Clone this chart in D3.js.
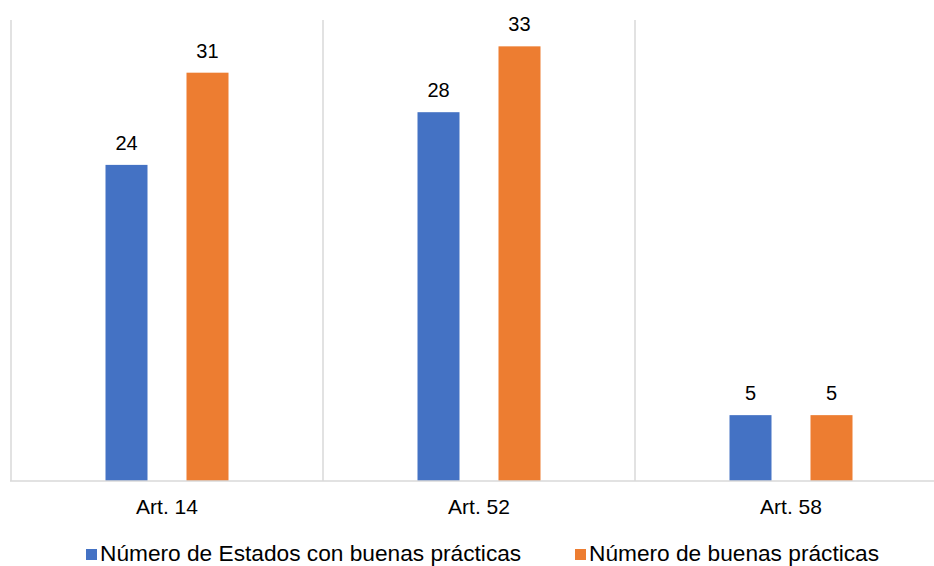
<!DOCTYPE html>
<html>
<head>
<meta charset="utf-8">
<script src="https://cdn.jsdelivr.net/npm/d3@7"></script>
<style>
  body { margin: 0; background: #fff; }
  text { font-family: "Liberation Sans", Arial, sans-serif; fill: #000; }
</style>
</head>
<body>
<div id="chart"></div>
<script>
const categories = ['Art. 14', 'Art. 52', 'Art. 58'];
const seriesNames = ['Número de Estados con buenas prácticas', 'Número de buenas prácticas'];
const estados = [24, 28, 5];
const practicas = [31, 33, 5];
const colors = ['#4472c4', '#ed7d31'];

const width = 934, height = 566;
const plot = { left: 11, right: 947, top: 20, bottom: 481 };

const svg = d3.select('#chart')
  .append('svg')
  .attr('width', width)
  .attr('height', height);

const x = d3.scaleBand()
  .domain(categories)
  .range([plot.left, plot.right]);

const xInner = d3.scaleBand()
  .domain(seriesNames)
  .range([0, x.bandwidth()])
  .paddingInner(0.4815)
  .paddingOuter(1.1667);

const y = d3.scaleLinear()
  .domain([0, 35])
  .range([plot.bottom, plot.top]);

// vertical gridlines between categories
const gridX = categories.map(c => x(c)).concat([plot.right]);
svg.append('g')
  .selectAll('line')
  .data(gridX)
  .enter()
  .append('line')
  .attr('x1', d => d)
  .attr('x2', d => d)
  .attr('y1', plot.top)
  .attr('y2', plot.bottom)
  .attr('stroke', '#d9d9d9')
  .attr('stroke-width', 1.5);

const rows = categories.map((c, i) => ({ cat: c, values: [estados[i], practicas[i]] }));

const group = svg.append('g')
  .selectAll('g')
  .data(rows)
  .enter()
  .append('g')
  .attr('transform', d => `translate(${x(d.cat)},0)`);

const bars = group.selectAll('g')
  .data(d => d.values.map((v, j) => ({ name: seriesNames[j], value: v, color: colors[j] })))
  .enter()
  .append('g');

bars.append('rect')
  .attr('x', d => xInner(d.name))
  .attr('y', d => y(d.value))
  .attr('width', xInner.bandwidth())
  .attr('height', d => y(0) - y(d.value))
  .attr('fill', d => d.color);

bars.append('text')
  .attr('x', d => xInner(d.name) + xInner.bandwidth() / 2)
  .attr('y', d => y(d.value) - 15)
  .attr('text-anchor', 'middle')
  .style('font-size', '20px')
  .text(d => d.value);

// baseline
svg.append('line')
  .attr('x1', plot.left - 1)
  .attr('x2', plot.right)
  .attr('y1', plot.bottom)
  .attr('y2', plot.bottom)
  .attr('stroke', '#d9d9d9')
  .attr('stroke-width', 1.5);

// category labels
svg.append('g')
  .selectAll('text')
  .data(categories)
  .enter()
  .append('text')
  .attr('x', d => x(d) + x.bandwidth() / 2)
  .attr('y', 514)
  .attr('text-anchor', 'middle')
  .style('font-size', '21px')
  .text(d => d);

// legend
const legendX = [86, 575];
const legend = svg.append('g')
  .selectAll('g')
  .data(seriesNames)
  .enter()
  .append('g')
  .attr('transform', (d, i) => `translate(${legendX[i]},549)`);

legend.append('rect')
  .attr('width', 11)
  .attr('height', 11)
  .attr('fill', (d, i) => colors[i]);

legend.append('text')
  .attr('x', 14)
  .attr('y', 12)
  .style('font-size', '22.7px')
  .text(d => d);
</script>
</body>
</html>
